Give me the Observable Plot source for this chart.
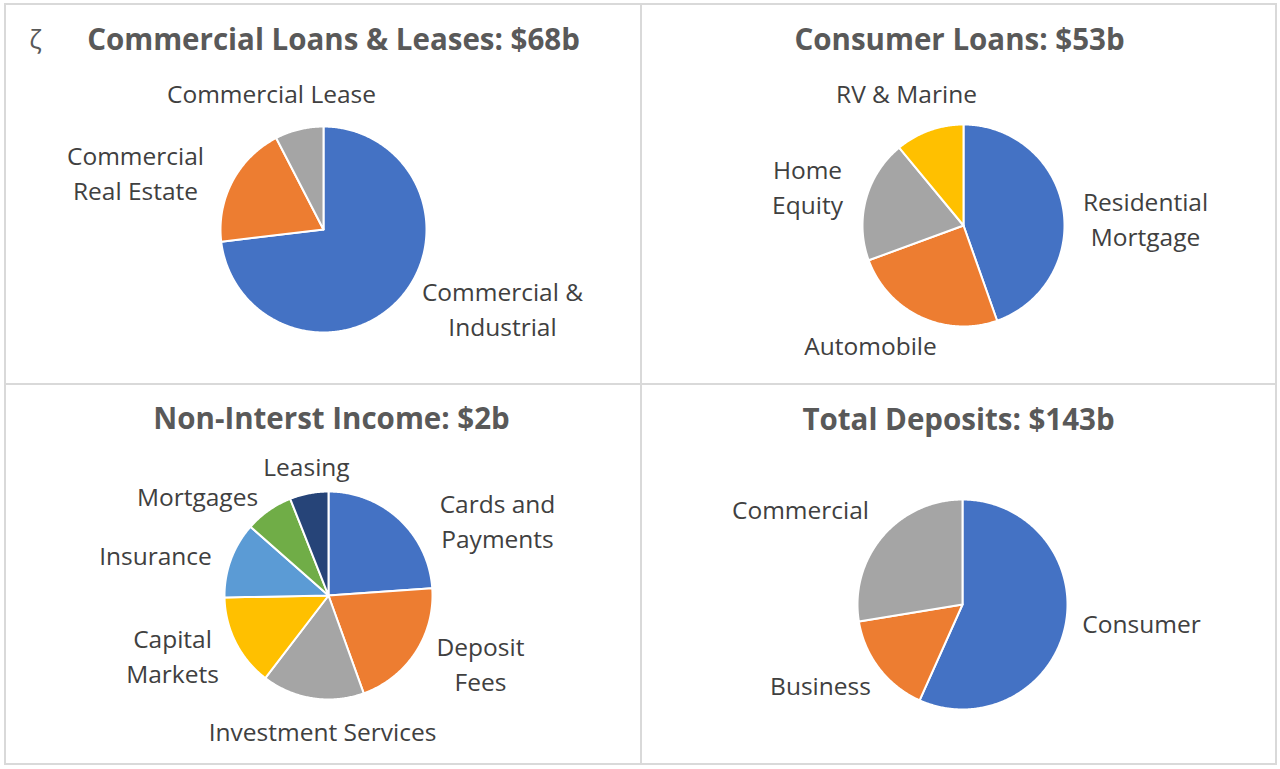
<!DOCTYPE html>
<html><head><meta charset="utf-8">
<script src="https://cdn.jsdelivr.net/npm/d3@7"></script>
<script src="https://cdn.jsdelivr.net/npm/@observablehq/plot@0.6"></script>
<style>
html,body{margin:0;padding:0;background:#fff;}
#wrap{position:relative;width:1280px;height:769px;overflow:hidden;}
.frame{position:absolute;background:#d9d9d9;}
#chart{position:absolute;left:0;top:0;}
</style></head><body><div id="wrap"></div>
<script>
// ---- data (shares in %) ----
const titles = ["Commercial Loans & Leases: $68b", "Consumer Loans: $53b", "Non-Interst Income: $2b", "Total Deposits: $143b"];
const commercialCategories = ["Commercial &\nIndustrial", "Commercial\nReal Estate", "Commercial Lease"];
const commercialValues = [73.1, 19.3, 7.6];
const consumerCategories = ["Residential\nMortgage", "Automobile", "Home\nEquity", "RV & Marine"];
const consumerValues = [44.6, 24.8, 19.6, 11.0];
const incomeCategories = ["Cards and\nPayments", "Deposit\nFees", "Investment Services", "Capital\nMarkets", "Insurance", "Mortgages", "Leasing"];
const incomeValues = [23.9, 20.6, 15.9, 14.3, 11.8, 7.5, 6.0];
const depositCategories = ["Consumer", "Business", "Commercial"];
const depositValues = [56.7, 15.7, 27.6];
const palette = ["#4472C4", "#ED7D31", "#A5A5A5", "#FFC000", "#5B9BD5", "#70AD47", "#264478"];

// ---- layout (page pixels) ----
const W = 1280, H = 769;
const FONT = "'Open Sans', 'Noto Sans', sans-serif";
const layout = [
  {cx: 323, cy: 229, r: 103, title: [333, 40], labels: [[502, 310], [135, 174], [271, 94]]},
  {cx: 963, cy: 225, r: 101, title: [959, 40], labels: [[1145, 220], [870, 346], [807, 188], [906, 94]]},
  {cx: 328, cy: 595, r: 104, title: [331, 419], labels: [[497, 522], [480, 665], [322, 732], [172, 657], [155, 556], [197, 497], [306, 467]]},
  {cx: 962, cy: 604, r: 105, title: [958, 420], labels: [[1141, 624], [820, 686], [800, 510]]}
];
const panelData = [
  [commercialCategories, commercialValues],
  [consumerCategories, consumerValues],
  [incomeCategories, incomeValues],
  [depositCategories, depositValues]
];

// borders
const wrap = document.getElementById("wrap");
[[4,3,1273,2],[4,763,1273,2],[4,3,2,762],[1275,3,2,762],[640,3,2,762],[4,383,1273,2]].forEach(([l,t,w,h]) => {
  const d = document.createElement("div"); d.className = "frame";
  Object.assign(d.style, {left: l+"px", top: t+"px", width: w+"px", height: h+"px"});
  wrap.appendChild(d);
});

const slices = [], labels = [], titleRows = [];
panelData.forEach(([cats, vals], p) => {
  const L = layout[p];
  const arcs = d3.pie().sort(null).value(d => d)(vals);
  arcs.forEach((a, i) => {
    const key = p + "-" + i, color = palette[i];
    slices.push({x: L.cx, y: L.cy, key, color});
    const n = Math.max(2, Math.ceil((a.endAngle - a.startAngle) / 0.01));
    for (let k = 0; k <= n; k++) {
      const t = a.startAngle + (a.endAngle - a.startAngle) * k / n;
      slices.push({x: L.cx + L.r * Math.sin(t), y: L.cy - L.r * Math.cos(t), key, color});
    }
    slices.push({x: L.cx, y: L.cy, key, color});
    labels.push({x: L.labels[i][0], y: L.labels[i][1], text: cats[i]});
  });
  titleRows.push({x: L.title[0], y: L.title[1], text: titles[p]});
});

const chart = Plot.plot({
  width: W, height: H, margin: 0,
  x: {domain: [0, W], range: [0, W], axis: null},
  y: {domain: [0, H], range: [0, H], axis: null},
  color: {type: "identity"},
  style: {background: "transparent", fontFamily: FONT},
  marks: [
    Plot.line(slices, {x: "x", y: "y", z: "key", fill: "color", stroke: "white", strokeWidth: 2, strokeLinejoin: "round"}),
    Plot.text(labels, {x: "x", y: "y", text: "text", dy: -3, fontSize: 24.5, fill: "#404040", lineHeight: 1.41, fontFamily: FONT}),
    Plot.text(titleRows, {x: "x", y: "y", text: "text", fontSize: 29.5, fontWeight: "bold", fill: "#595959", fontFamily: FONT}),
    Plot.text([{x: 35, y: 40, text: "ζ"}], {x: "x", y: "y", text: "text", fontSize: 26, fill: "#595959", fontFamily: FONT})
  ]
});
chart.id = "chart";
wrap.appendChild(chart);
</script>
</body></html>
